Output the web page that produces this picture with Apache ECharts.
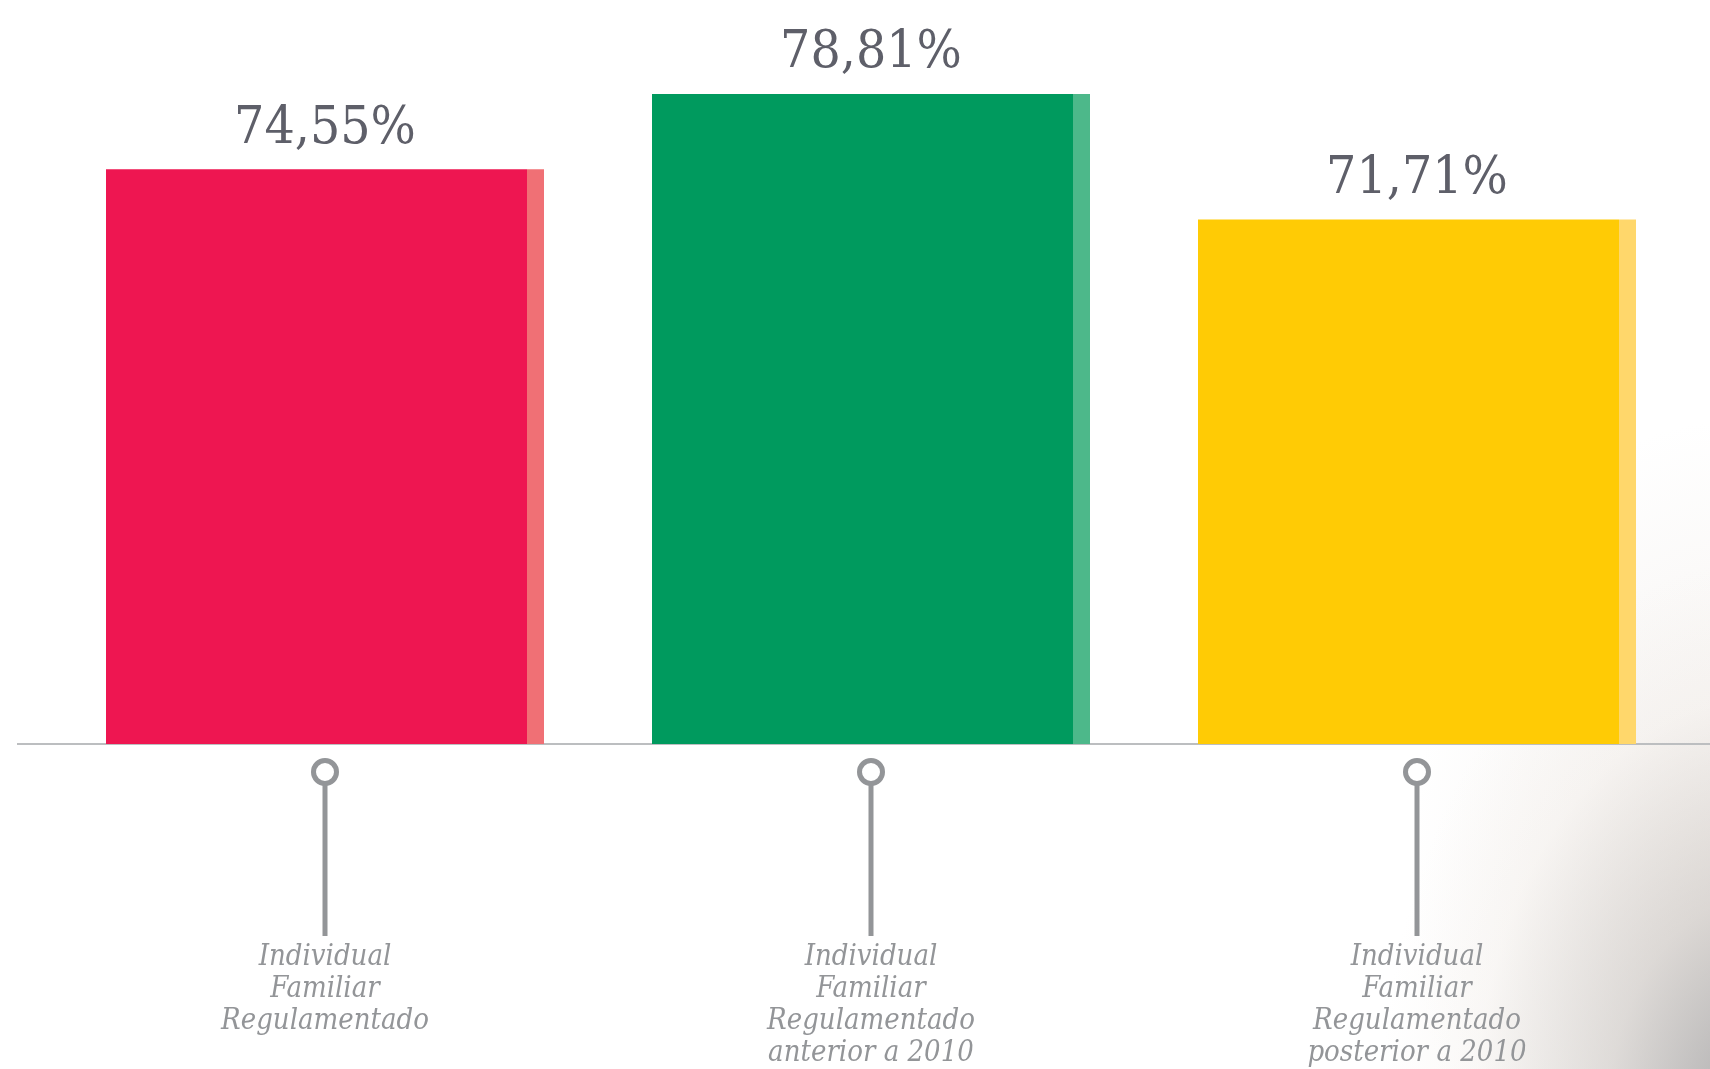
<!DOCTYPE html>
<html>
<head>
<meta charset="utf-8">
<script src="https://cdn.jsdelivr.net/npm/echarts@6/dist/echarts.min.js"></script>
<style>
html,body{margin:0;padding:0;width:1710px;height:1069px;overflow:hidden;}
body{
  background:
    radial-gradient(ellipse 380px 560px at 1760px 1120px, rgba(150,150,152,0.8) 0%, rgba(195,190,186,0.5) 40%, rgba(238,232,226,0.25) 75%, rgba(255,255,255,0) 100%),
    radial-gradient(ellipse 320px 460px at 1730px 880px, rgba(228,220,214,0.45) 0%, rgba(255,255,255,0) 100%),
    #ffffff;
}
#chart{width:1710px;height:1069px;}
</style>
</head>
<body>
<div id="chart"></div>
<script>
const categories = [
  'Individual\nFamiliar\nRegulamentado',
  'Individual\nFamiliar\nRegulamentado\nanterior a 2010',
  'Individual\nFamiliar\nRegulamentado\nposterior a 2010'
];
const values = [74.55, 78.81, 71.71];
const mainColors = ['#EE1651', '#009A5E', '#FFCB05'];
const stripColors = ['#F07075', '#4DB88A', '#FFD76B'];
const Y_MIN = 42;
const Y_MAX = 80;

const GRAY = '#939598';
const chart = echarts.init(document.getElementById('chart'), null, {renderer: 'canvas'});

const option = {
  backgroundColor: 'transparent',
  animation: false,
  grid: {left: 52, right: 20, top: 73, bottom: 323},
  xAxis: {
    type: 'category',
    data: categories,
    axisLine: {show: false},
    axisTick: {show: false},
    axisLabel: {
      interval: 0,
      margin: 197,
      color: GRAY,
      fontFamily: '"DejaVu Serif Condensed", "DejaVu Serif", serif',
      fontStyle: 'italic',
      fontSize: 29,
      lineHeight: 32,
      align: 'center'
    }
  },
  yAxis: {
    type: 'value',
    min: Y_MIN,
    max: Y_MAX,
    show: false,
    splitLine: {show: false}
  },
  series: [
    {
      type: 'bar',
      barWidth: 421,
      barGap: '0%',
      z: 3,
      data: values.map((v, i) => ({value: v, itemStyle: {color: mainColors[i]}})),
      label: {
        show: true,
        position: 'top',
        distance: 14,
        offset: [8.5, 0],
        color: '#5E5F69',
        fontFamily: '"DejaVu Serif Condensed", "DejaVu Serif", serif',
        fontSize: 53,
        formatter: p => p.value.toFixed(2).replace('.', ',') + '%'
      }
    },
    {
      type: 'bar',
      barWidth: 17,
      z: 3,
      data: values.map((v, i) => ({value: v, itemStyle: {color: stripColors[i]}}))
    },
    {
      type: 'custom',
      z: 3,
      data: categories.map((c, i) => [i]),
      renderItem: function (params, api) {
        const p = api.coord([api.value(0), Y_MIN]);
        const x = p[0], y = p[1];
        return {
          type: 'group',
          children: [
            {
              type: 'circle',
              shape: {cx: x, cy: y + 28, r: 11.5},
              style: {fill: 'none', stroke: GRAY, lineWidth: 5}
            },
            {
              type: 'line',
              shape: {x1: x, y1: y + 41, x2: x, y2: y + 192},
              style: {stroke: GRAY, lineWidth: 5}
            }
          ]
        };
      }
    }
  ]
};
chart.setOption(option);

const baseY = chart.convertToPixel({yAxisIndex: 0}, Y_MIN);
chart.setOption({
  graphic: [{
    type: 'line',
    z: 1,
    shape: {x1: 17, y1: baseY, x2: 1710, y2: baseY},
    style: {stroke: '#BCBEC0', lineWidth: 2}
  }]
});
</script>
</body>
</html>
